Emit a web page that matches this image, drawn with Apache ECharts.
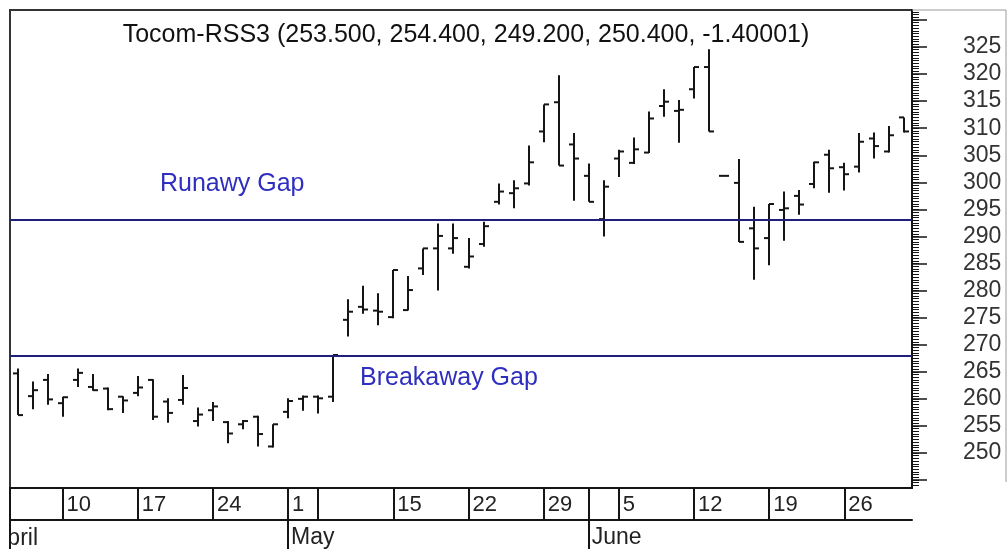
<!DOCTYPE html>
<html><head><meta charset="utf-8">
<script src="https://cdn.jsdelivr.net/npm/echarts@6/dist/echarts.min.js"></script>
<style>html,body{margin:0;padding:0;background:#fff}#c{width:1008px;height:549px}</style>
</head><body><div id="c"></div>
<script>
// ---- data ----
const titleText = 'Tocom-RSS3 (253.500, 254.400, 249.200, 250.400, -1.40001)';
const dates = [
 '2006-04-05','2006-04-06','2006-04-07',
 '2006-04-10','2006-04-11','2006-04-12','2006-04-13','2006-04-14',
 '2006-04-17','2006-04-18','2006-04-19','2006-04-20','2006-04-21',
 '2006-04-24','2006-04-25','2006-04-26','2006-04-27','2006-04-28',
 '2006-05-01','2006-05-02',
 '2006-05-08','2006-05-09','2006-05-10','2006-05-11','2006-05-12',
 '2006-05-15','2006-05-16','2006-05-17','2006-05-18','2006-05-19',
 '2006-05-22','2006-05-23','2006-05-24','2006-05-25','2006-05-26',
 '2006-05-29','2006-05-30','2006-05-31','2006-06-01','2006-06-02',
 '2006-06-05','2006-06-06','2006-06-07','2006-06-08','2006-06-09',
 '2006-06-12','2006-06-13','2006-06-14','2006-06-15','2006-06-16',
 '2006-06-19','2006-06-20','2006-06-21','2006-06-22','2006-06-23',
 '2006-06-26','2006-06-27','2006-06-28','2006-06-29','2006-06-30'
];
const opens  = [264.7,260.5,263.5, 259.2,263.5,262.2,261.9,260.4, 261.1,263.5,259.5,259.8,255.9, 257.9,255.7,255.3,256.7,251.2, 257.6,260.0,
                260.4,260.4,274.6,277.0,276.3, 275.1,276.4,284.1,287.8,287.8, 284.4,288.6,296.4,298.0,299.8, 309.4,314.8,307.0,301.2,293.2,
                304.4,303.6,305.5,314.1,313.2, 317.2,321.3,301.2,299.9,291.5, 289.7,294.9,297.5,299.7,305.1, 302.8,302.9,308.1,305.7,312.0];
const highs  = [265.6,263.2,264.6, 260.4,265.6,264.6,262.1,260.5, 264.2,263.6,260.1,264.4,258.4, 259.4,255.9,256.1,256.9,255.3, 260.1,260.6,
                260.6,268.1,278.4,280.9,279.5, 283.8,282.7,287.8,292.4,292.4, 289.7,292.7,299.8,300.4,306.8, 314.4,319.8,309.1,303.5,300.4,
                306.0,308.3,313.1,317.2,315.2, 321.3,324.6,301.2,304.3,295.5, 296.0,298.3,298.6,303.8,306.0, 303.6,309.1,309.2,310.4,312.0];
const lows   = [257.0,258.1,258.9, 256.7,262.2,261.5,257.9,257.4, 260.5,256.1,255.6,258.9,254.9, 255.9,251.8,254.4,251.2,251.0, 256.4,257.8,
                257.3,259.4,271.5,275.7,273.6, 274.9,276.3,282.9,280.0,286.8, 284.1,288.1,295.9,295.2,299.4, 307.4,303.1,296.6,296.4,290.0,
                301.0,303.4,305.4,312.1,307.3, 315.5,309.4,301.2,289.0,282.0, 284.7,289.2,294.0,298.9,298.1, 298.5,301.8,304.4,305.5,309.2];
const closes = [257.0,261.6,259.9, 260.3,264.8,261.6,258.1,259.7, 262.1,256.7,257.4,262.0,257.1, 258.6,253.6,255.9,253.5,255.3, 259.6,260.4,
                260.1,268.1,276.1,276.5,276.1, 283.8,280.1,287.8,290.1,289.7, 286.3,291.9,298.3,298.9,303.7, 314.4,303.1,304.4,296.4,299.2,
                305.7,306.1,311.8,314.9,313.4, 321.3,309.4,301.2,289.0,287.8, 296.0,295.2,295.9,303.7,302.6, 301.5,307.5,306.7,308.7,309.4];
const weekTicks = ['2006-04-10','2006-04-17','2006-04-24','2006-05-01','2006-05-08','2006-05-15','2006-05-22','2006-05-29','2006-06-05','2006-06-12','2006-06-19','2006-06-26'];
const dayLabels = ['10','17','24','1','','15','22','29','5','12','19','26'];
const monthStarts = ['2006-05-01','2006-06-01'];
const monthLabels = ['May','June'];
const firstMonthLabel = 'April';
const yLabels = [250,255,260,265,270,275,280,285,290,295,300,305,310,315,320,325];
const runawayLevel = 293.0;
const breakawayLevel = 268.0;
const runawayText = 'Runawy Gap';
const breakawayText = 'Breakaway Gap';
const yMin = 243.53, yMax = 331.84;

// ---- ticks ----
const minorTicks = []; for (let v = 244; v <= 331.5; v += 0.5) minorTicks.push(v);
const majorTicks = []; for (let v = 245; v <= 330; v += 5) majorTicks.push(v);

const FONT = '"Liberation Sans", Arial, sans-serif';
const weekIdx = new Set(weekTicks.map(d => dates.indexOf(d)));
const sepIdx = new Set(weekTicks.concat(monthStarts).map(d => dates.indexOf(d)));
const monthIdx = new Set(monthStarts.map(d => dates.indexOf(d)));
const dayMap = {}; weekTicks.forEach((d, i) => dayMap[d] = dayLabels[i]);
const monMap = {}; monthStarts.forEach((d, i) => monMap[d] = monthLabels[i]);

const chart = echarts.init(document.getElementById('c'), null, {renderer: 'canvas'});
const ink = '#151515';
const option = {
  animation: false,
  backgroundColor: '#fff',
  title: {text: titleText, left: 461, top: 18, textAlign: 'center',
    textStyle: {fontFamily: FONT, fontSize: 25, fontWeight: 'normal', color: '#111'}},
  grid: {left: 10, top: 10, right: 96, bottom: 61, show: true, borderColor: '#333', borderWidth: 2},
  xAxis: [
    {type: 'category', data: dates, position: 'bottom', boundaryGap: true,
     axisLine: {show: true, lineStyle: {color: ink, width: 2}},
     axisTick: {show: true, alignWithLabel: true, length: 32, interval: (i) => sepIdx.has(i), lineStyle: {color: ink, width: 2}},
     axisLabel: {show: true, interval: (i) => weekIdx.has(i), formatter: (v) => dayMap[v] || '', align: 'left', margin: 6,
       padding: [0, 0, 0, 4], fontFamily: FONT, fontSize: 22, color: '#222'},
     splitLine: {show: false}},
    {type: 'category', data: dates, position: 'bottom', offset: 32, boundaryGap: true,
     axisLine: {show: true, lineStyle: {color: ink, width: 2}},
     axisTick: {show: true, alignWithLabel: true, length: 30, interval: (i) => monthIdx.has(i), lineStyle: {color: ink, width: 2}},
     axisLabel: {show: true, interval: (i) => monthIdx.has(i), formatter: (v) => monMap[v] || '', align: 'left', margin: 6,
       padding: [0, 0, 0, 3], fontFamily: FONT, fontSize: 23, color: '#222'},
     splitLine: {show: false}}
  ],
  yAxis: [
    {type: 'value', position: 'right', min: yMin, max: yMax,
     axisLine: {show: true, lineStyle: {color: ink, width: 2}},
     axisTick: {show: true, customValues: minorTicks, length: 7, lineStyle: {color: ink, width: 1}},
     axisLabel: {show: true, customValues: yLabels, margin: 51, fontFamily: FONT, fontSize: 23, color: '#333',
       padding: [6, 0, 0, 0], formatter: (v) => String(v)},
     splitLine: {show: false}},
    {type: 'value', position: 'right', min: yMin, max: yMax,
     axisLine: {show: false},
     axisTick: {show: true, customValues: majorTicks, length: 15, lineStyle: {color: ink, width: 1.5}},
     axisLabel: {show: false}, splitLine: {show: false}}
  ],
  series: [{
    type: 'custom', name: 'Tocom-RSS3',
    data: dates.map((d, i) => [i, opens[i], highs[i], lows[i], closes[i]]),
    encode: {x: 0, y: [1, 2, 3, 4]},
    renderItem: (params, api) => {
      const i = api.value(0);
      const o = api.coord([i, api.value(1)]);
      const h = api.coord([i, api.value(2)]);
      const l = api.coord([i, api.value(3)]);
      const c = api.coord([i, api.value(4)]);
      const x = Math.round(h[0]);
      const t = 5;
      const st = {stroke: ink, lineWidth: 2};
      return {type: 'group', children: [
        {type: 'line', shape: {x1: x, y1: h[1], x2: x, y2: l[1]}, style: st},
        {type: 'line', shape: {x1: x - t, y1: o[1], x2: x, y2: o[1]}, style: st},
        {type: 'line', shape: {x1: x, y1: c[1], x2: x + t, y2: c[1]}, style: st}
      ]};
    },
    markLine: {silent: true, symbol: ['none', 'none'], label: {show: false},
      lineStyle: {color: '#20207a', width: 2, type: 'solid'},
      data: [{yAxis: runawayLevel}, {yAxis: breakawayLevel}]}
  }]
};
chart.setOption(option);

const runY = chart.convertToPixel({yAxisIndex: 0}, runawayLevel);
const brkY = chart.convertToPixel({yAxisIndex: 0}, breakawayLevel);
const gapStyle = {fontFamily: FONT, fontSize: 25, fill: '#2f2fbf'};
chart.setOption({graphic: [
  {type: 'text', left: 160, top: runY - 49, style: Object.assign({text: runawayText}, gapStyle), z: 10},
  {type: 'text', left: 360, top: brkY + 10, style: Object.assign({text: breakawayText}, gapStyle), z: 10},
  {type: 'text', left: -8, top: 527, style: {text: firstMonthLabel, fontFamily: FONT, fontSize: 23, fill: '#222'}, z: 1},
  {type: 'rect', shape: {x: 0, y: 489, width: 9, height: 60}, style: {fill: '#fff'}, z: 2},
  {type: 'line', shape: {x1: 10, y1: 488, x2: 10, y2: 549}, style: {stroke: ink, lineWidth: 2}, z: 3},
  {type: 'polyline', shape: {points: [[912, 10], [1006, 10], [1006, 482]]}, style: {stroke: '#9a9a9a', lineWidth: 1, fill: null}, z: 3}
]});
</script>
</body></html>
